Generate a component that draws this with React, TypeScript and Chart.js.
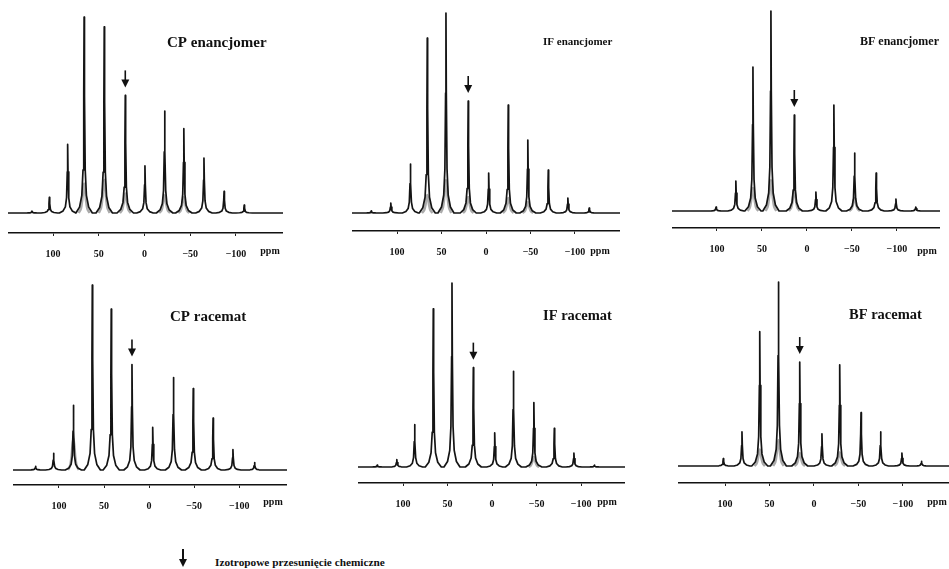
import React, { useEffect, useRef } from "react";
import { Chart, registerables } from "chart.js";

Chart.register(...registerables);

const SERIF = "'Liberation Serif', 'DejaVu Serif', serif";
const TICK_VALUES = [100, 50, 0, -50, -100];
const LEGEND_TEXT = "Izotropowe przesunięcie chemiczne";

// CP enancjomer
const CP_ENAN_PPM = [123, 104, 84, 66, 44, 21, -0.5, -22, -43, -65, -87, -109];
const CP_ENAN_H = [1, 8, 35, 100, 95, 60, 24, 52, 43, 28, 11, 4];
const CP_ENAN_GREY_PPM = [66, 44, 21, -22, -43];
const CP_ENAN_GREY_H = [15, 17, 10, 9, 8];

// IF enancjomer
const IF_ENAN_PPM = [129, 107, 85, 66, 45, 20, -3, -25, -47, -70, -92, -116];
const IF_ENAN_H = [1, 5, 24.5, 87.5, 100, 56, 20, 54, 36.5, 21.5, 7.5, 2.5];
const IF_ENAN_GREY_PPM = [66, 45, 20, -25, -47];
const IF_ENAN_GREY_H = [9, 16.5, 8, 7.5, 5.5];

// BF enancjomer
const BF_ENAN_PPM = [101, 79, 60, 40, 14, -10, -30, -53, -77, -99, -121];
const BF_ENAN_H = [2, 15, 72, 100, 48, 9.5, 53, 29, 19, 6, 2];
const BF_ENAN_GREY_PPM = [60, 40, 14, -53];
const BF_ENAN_GREY_H = [11.5, 15.5, 10.5, 6.5];

// CP racemat
const CP_RAC_PPM = [126, 106, 84, 63, 42, 19, -4, -27, -49, -71, -93, -117];
const CP_RAC_H = [2, 9, 35, 100, 87, 57, 23, 50, 44, 28, 11, 4];
const CP_RAC_GREY_PPM = [84];
const CP_RAC_GREY_H = [17];

// IF racemat
const IF_RAC_PPM = [129, 107, 87, 66, 45, 21, -3, -24, -47, -70, -92, -115];
const IF_RAC_H = [1, 4, 23, 86, 100, 54, 18.5, 52, 35, 21, 7.5, 1];
const IF_RAC_GREY_PPM = [-47];
const IF_RAC_GREY_H = [5.5];

// BF racemat
const BF_RAC_PPM = [102, 81, 61, 40, 16, -9, -29, -53, -75, -99, -121];
const BF_RAC_H = [4, 18.5, 73, 100, 56.5, 17.5, 55, 29, 18.5, 7, 2.5];
const BF_RAC_GREY_PPM = [61, 40, 16, -29];
const BF_RAC_GREY_H = [9, 14, 7, 7.5];

// peak line profile (offset in ppm, fraction of peak height)
const PEAK_OFFSETS = [-9, -5, -2.5, -1.2, -0.4, 0, 0.4, 1.2, 2.5, 5, 9];
const PEAK_FRACTIONS = [0, 0.03, 0.09, 0.22, 0.6, 1, 0.6, 0.22, 0.09, 0.03, 0];
const BUMP_OFFSETS = [-6, -3.5, -2, -1, 0, 1, 2, 3.5, 6];
const BUMP_FRACTIONS = [0, 0.15, 0.45, 0.8, 1, 0.8, 0.45, 0.15, 0];

const AXIS_H = 30;

type Panel = {
  title: string;
  ppm: number[];
  h: number[];
  greyPpm: number[];
  greyH: number[];
  iso: number;
  left: number;
  right: number;
  axisY: number;
  baseY: number;
  topY: number;
  canvasTop: number;
  xMax: number;
  xMin: number;
  titleX: number;
  titleY: number;
  titleSize: number;
  ppmX: number;
  labelY: number;
};

const PANELS: Panel[] = [
  {
    title: "CP enancjomer", ppm: CP_ENAN_PPM, h: CP_ENAN_H, greyPpm: CP_ENAN_GREY_PPM, greyH: CP_ENAN_GREY_H, iso: 5,
    left: 8, right: 283, axisY: 233, baseY: 213, topY: 17, canvasTop: 0, xMax: 149.2, xMin: -151.4,
    titleX: 167, titleY: 43, titleSize: 15, ppmX: 270, labelY: 251,
  },
  {
    title: "IF enancjomer", ppm: IF_ENAN_PPM, h: IF_ENAN_H, greyPpm: IF_ENAN_GREY_PPM, greyH: IF_ENAN_GREY_H, iso: 5,
    left: 352, right: 620, axisY: 231, baseY: 213, topY: 13, canvasTop: 0, xMax: 150.6, xMin: -150.6,
    titleX: 543, titleY: 42, titleSize: 11, ppmX: 600, labelY: 251,
  },
  {
    title: "BF enancjomer", ppm: BF_ENAN_PPM, h: BF_ENAN_H, greyPpm: BF_ENAN_GREY_PPM, greyH: BF_ENAN_GREY_H, iso: 4,
    left: 672, right: 940, axisY: 228, baseY: 211, topY: 11, canvasTop: 0, xMax: 150, xMin: -148,
    titleX: 860, titleY: 42, titleSize: 12, ppmX: 927, labelY: 251,
  },
  {
    title: "CP racemat", ppm: CP_RAC_PPM, h: CP_RAC_H, greyPpm: CP_RAC_GREY_PPM, greyH: CP_RAC_GREY_H, iso: 5,
    left: 13, right: 287, axisY: 485, baseY: 470, topY: 285, canvasTop: 262, xMax: 151, xMin: -153,
    titleX: 170, titleY: 317, titleSize: 15, ppmX: 273, labelY: 502,
  },
  {
    title: "IF racemat", ppm: IF_RAC_PPM, h: IF_RAC_H, greyPpm: IF_RAC_GREY_PPM, greyH: IF_RAC_GREY_H, iso: 5,
    left: 358, right: 625, axisY: 483, baseY: 467, topY: 283, canvasTop: 262, xMax: 150.6, xMin: -149.4,
    titleX: 543, titleY: 316, titleSize: 14.5, ppmX: 607, labelY: 502,
  },
  {
    title: "BF racemat", ppm: BF_RAC_PPM, h: BF_RAC_H, greyPpm: BF_RAC_GREY_PPM, greyH: BF_RAC_GREY_H, iso: 4,
    left: 678, right: 949, axisY: 483, baseY: 466, topY: 282, canvasTop: 262, xMax: 153, xMin: -152,
    titleX: 849, titleY: 315, titleSize: 14.5, ppmX: 937, labelY: 502,
  },
];

function buildLine(ppm: number[], h: number[], offs: number[], fr: number[], xMax: number, xMin: number, withEdges: boolean) {
  const order = ppm.map((_, i) => i).sort((a, b) => ppm[b] - ppm[a]);
  const pts: { x: number; y: number }[] = [];
  if (withEdges) pts.push({ x: xMax, y: 0 });
  for (const i of order) {
    const seg: { x: number; y: number }[] = [];
    for (let k = 0; k < offs.length; k++) seg.push({ x: ppm[i] - offs[k], y: h[i] * fr[k] });
    seg.sort((a, b) => b.x - a.x);
    if (!withEdges) pts.push({ x: NaN, y: NaN });
    pts.push(...seg);
  }
  if (withEdges) pts.push({ x: xMin, y: 0 });
  return pts;
}

const fmt = (v: number) => (v < 0 ? "\u2212" + Math.abs(v) : String(v));

function Spectrum({ p }: { p: Panel }) {
  const ref = useRef<HTMLCanvasElement>(null);
  const W = p.right - p.left;
  const H = p.axisY + AXIS_H - p.canvasTop;
  useEffect(() => {
    const canvas = ref.current!;
    const yMin = (-(p.axisY - p.baseY) / (p.baseY - p.topY)) * 100;
    const decor = {
      id: "decor",
      afterDraw(chart: any) {
        const ctx = chart.ctx;
        const xs = chart.scales.x;
        const ys = chart.scales.y;
        ctx.save();
        ctx.fillStyle = "#111";
        ctx.textBaseline = "middle";
        ctx.textAlign = "left";
        ctx.font = `bold ${p.titleSize}px ${SERIF}`;
        ctx.fillText(p.title, p.titleX - p.left, p.titleY - p.canvasTop);
        ctx.font = `bold 10px ${SERIF}`;
        ctx.textAlign = "center";
        ctx.fillText("ppm", p.ppmX - p.left, p.labelY - p.canvasTop);
        const ax = xs.getPixelForValue(p.ppm[p.iso]);
        const tip = ys.getPixelForValue(p.h[p.iso]) - 8;
        ctx.strokeStyle = "#111";
        ctx.lineWidth = 1.6;
        ctx.beginPath();
        ctx.moveTo(ax, tip - 17);
        ctx.lineTo(ax, tip - 5);
        ctx.stroke();
        ctx.beginPath();
        ctx.moveTo(ax, tip);
        ctx.lineTo(ax - 4, tip - 8);
        ctx.lineTo(ax + 4, tip - 8);
        ctx.closePath();
        ctx.fill();
        ctx.restore();
      },
    };
    const chart = new Chart(canvas, {
      type: "line",
      data: {
        datasets: [
          {
            data: buildLine(p.ppm, p.h, PEAK_OFFSETS, PEAK_FRACTIONS, p.xMax, p.xMin, true),
            borderColor: "#141414",
            borderWidth: 1.7,
            borderJoinStyle: "round",
            pointRadius: 0,
            tension: 0,
            order: 0,
            clip: false as any,
          },
          {
            data: buildLine(p.greyPpm, p.greyH, BUMP_OFFSETS, BUMP_FRACTIONS, p.xMax, p.xMin, false),
            borderColor: "rgba(150,150,150,0.8)",
            borderWidth: 2.5,
            borderJoinStyle: "round",
            pointRadius: 0,
            tension: 0.3,
            spanGaps: false,
            order: 1,
            clip: false as any,
          },
        ],
      },
      options: {
        animation: false,
        responsive: false,
        maintainAspectRatio: false,
        events: [],
        layout: { padding: { top: p.topY - p.canvasTop, left: 0, right: 0, bottom: 0 } },
        plugins: { legend: { display: false }, tooltip: { enabled: false }, title: { display: false } },
        scales: {
          x: {
            type: "linear",
            reverse: true,
            min: p.xMin,
            max: p.xMax,
            afterBuildTicks: (s: any) => {
              s.ticks = TICK_VALUES.map((v) => ({ value: v }));
            },
            afterFit: (s: any) => {
              s.height = AXIS_H;
            },
            ticks: {
              autoSkip: false,
              maxRotation: 0,
              padding: 12,
              color: "#111",
              font: { family: SERIF, size: 10, weight: "bold" },
              callback: (v: any) => fmt(Number(v)),
            },
            grid: { display: true, drawOnChartArea: false, drawTicks: true, tickLength: 3, color: "#222", lineWidth: 1 },
            border: { display: true, color: "#111", width: 1.6 },
          },
          y: { display: false, min: yMin, max: 100 },
        },
      } as any,
      plugins: [decor],
    });
    return () => chart.destroy();
  }, []);
  return (
    <canvas
      ref={ref}
      width={W}
      height={H}
      style={{ position: "absolute", left: p.left, top: p.canvasTop, width: W, height: H }}
    />
  );
}

export default function App() {
  return (
    <div style={{ position: "absolute", left: 0, top: 0, width: 949, height: 569, background: "#fff", overflow: "hidden" }}>
      {PANELS.map((p, i) => (
        <Spectrum key={i} p={p} />
      ))}
      <div style={{ position: "absolute", left: 182, top: 549, width: 1.6, height: 12, background: "#111" }} />
      <div
        style={{
          position: "absolute",
          left: 179,
          top: 559,
          width: 0,
          height: 0,
          borderLeft: "4px solid transparent",
          borderRight: "4px solid transparent",
          borderTop: "8px solid #111",
        }}
      />
      <div
        style={{
          position: "absolute",
          left: 215,
          top: 555,
          font: `bold 11.3px ${SERIF}`,
          lineHeight: "14px",
          color: "#111",
          whiteSpace: "nowrap",
        }}
      >
        {LEGEND_TEXT}
      </div>
    </div>
  );
}
